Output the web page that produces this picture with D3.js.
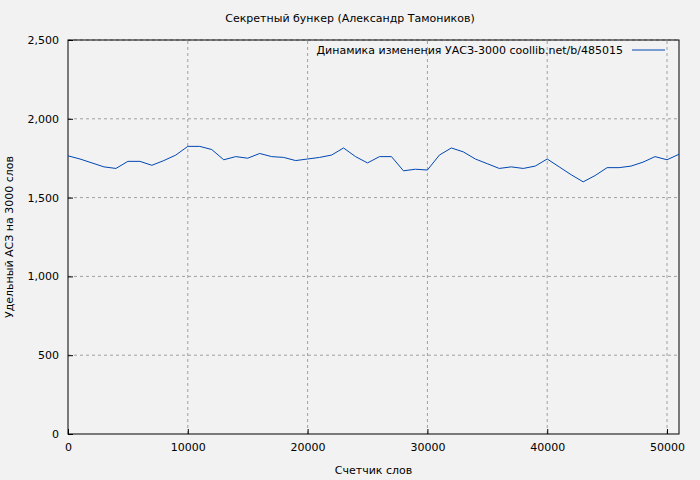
<!DOCTYPE html>
<html><head><meta charset="utf-8">
<script src="https://cdn.jsdelivr.net/npm/d3@7"></script>
<style>body{margin:0;background:#f2f2f2}</style>
</head><body><div id="chart"></div>
<script>
const words = d3.range(0, 52000, 1000);
const values = [1765,1745,1720,1695,1685,1730,1730,1705,1735,1770,1825,1825,1805,1740,1760,1750,1780,1760,1755,1735,
  1745,1755,1770,1815,1760,1720,1760,1760,1670,1680,1675,1770,1815,1790,1745,1715,1685,1695,1685,1700,
  1745,1695,1645,1600,1640,1690,1690,1700,1725,1760,1740,1775];
const xTicks = [0,10000,20000,30000,40000,50000];
const yTicks = [0,500,1000,1500,2000,2500];

const W = 700, H = 480, m = {l:68, r:21, t:40, b:46};
const svg = d3.select("#chart").append("svg").attr("width", W).attr("height", H)
  .style("font-family", "DejaVu Sans").style("font-size", "11px");
svg.append("rect").attr("width", W).attr("height", H).attr("fill", "#f2f2f2");

const x = d3.scaleLinear().domain([0, 51000]).range([m.l, W - m.r]);
const y = d3.scaleLinear().domain([0, 2500]).range([H - m.b, m.t]);

// grid
svg.append("g").selectAll("line").data(xTicks.slice(1)).join("line")
  .attr("x1", d => x(d)).attr("x2", d => x(d)).attr("y1", y(0)).attr("y2", y(2500))
  .attr("stroke", "#a0a0a0").attr("stroke-dasharray", "3,3");
svg.append("g").selectAll("line").data(yTicks.slice(1)).join("line")
  .attr("x1", x(0)).attr("x2", x(51000)).attr("y1", d => y(d)).attr("y2", d => y(d))
  .attr("stroke", "#a0a0a0").attr("stroke-dasharray", "3,3");

svg.append("g").attr("transform", `translate(0,${y(0)})`)
  .call(d3.axisBottom(x).tickValues(xTicks).tickSize(-5).tickPadding(9).tickFormat(d3.format("d")))
  .call(g => g.select(".domain").remove());
svg.append("g").attr("transform", `translate(${x(0)},0)`)
  .call(d3.axisLeft(y).tickValues(yTicks).tickSize(-5).tickPadding(9))
  .call(g => g.select(".domain").remove());
svg.selectAll(".tick text").attr("fill", "#000").style("font-family", "DejaVu Sans").style("font-size", "11px");

svg.append("rect").attr("x", x(0)).attr("y", y(2500)).attr("width", x(51000) - x(0)).attr("height", y(0) - y(2500))
  .attr("fill", "none").attr("stroke", "#000");

svg.append("path").datum(values)
  .attr("d", d3.line().x((d, i) => x(words[i])).y(d => y(d)))
  .attr("fill", "none").attr("stroke", "#0047b3").attr("stroke-width", 1);

svg.append("text").attr("x", W / 2).attr("y", 22).attr("text-anchor", "middle")
  .text("Секретный бункер (Александр Тамоников)");
svg.append("text").attr("x", (x(0) + x(51000)) / 2).attr("y", 474).attr("text-anchor", "middle").text("Счетчик слов");
svg.append("text").attr("transform", `translate(13,${(y(0) + y(2500)) / 2}) rotate(-90)`)
  .attr("text-anchor", "middle").text("Удельный АСЗ на 3000 слов");
svg.append("text").attr("x", 623).attr("y", 54).attr("text-anchor", "end")
  .text("Динамика изменения УАСЗ-3000  coollib.net/b/485015");
svg.append("line").attr("x1", 632).attr("x2", 665).attr("y1", 50).attr("y2", 50)
  .attr("stroke", "#0047b3");
</script></body></html>
